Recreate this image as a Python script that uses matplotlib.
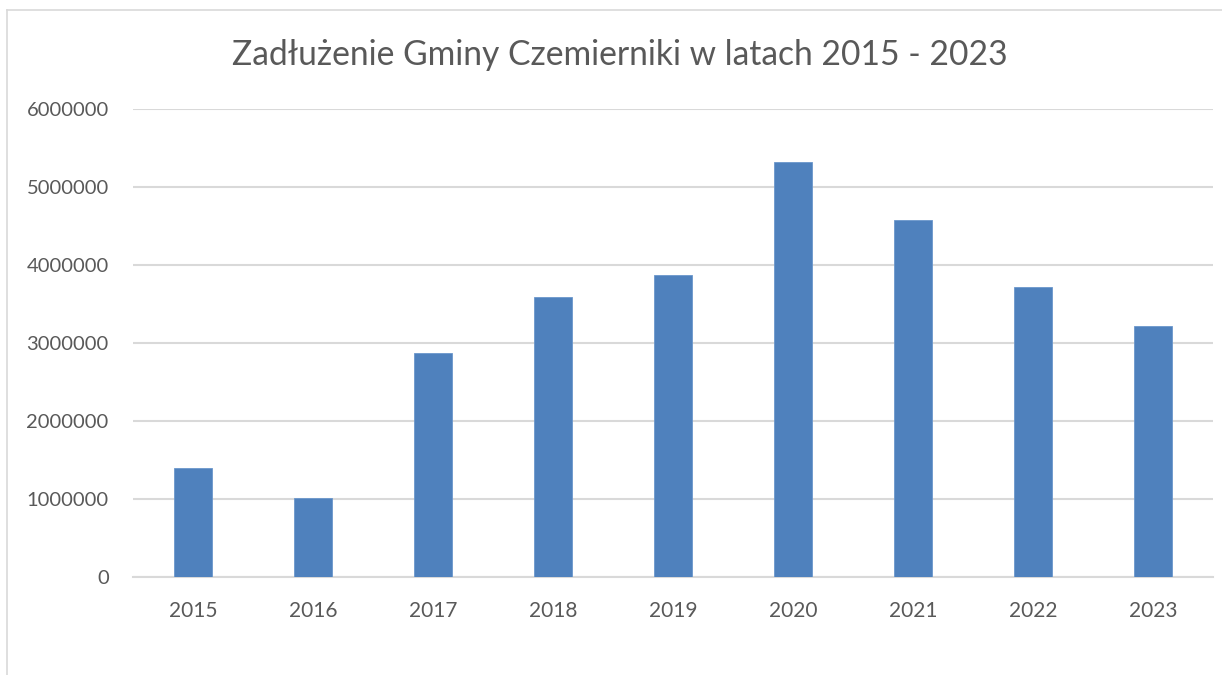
import matplotlib.pyplot as plt
from matplotlib.lines import Line2D

# dane
lata = ["2015", "2016", "2017", "2018", "2019", "2020", "2021", "2022", "2023"]
zadluzenie = [1400000, 1016000, 2870000, 3595000, 3873000, 5325000, 4574000, 3720000, 3220000]
y_ticks = [0, 1000000, 2000000, 3000000, 4000000, 5000000, 6000000]

plt.rcParams['font.family'] = ['Lato', 'DejaVu Sans']

fig = plt.figure(figsize=(12.22, 6.75), dpi=100)
ax = fig.add_axes([133 / 1222, 1 - 577.3 / 675, 1080 / 1222, (577.3 - 109) / 675])

x = range(len(lata))
ax.bar(x, zadluzenie, width=0.31, color='#4F81BD', edgecolor='#6B97CC', linewidth=0.6, zorder=3)

ax.set_xlim(-0.5, len(lata) - 0.5)
ax.set_ylim(0, 6000000)
ax.set_yticks(y_ticks)
ax.set_yticklabels([str(v) for v in y_ticks])
ax.set_xticks(list(x))
ax.set_xticklabels(lata)

ax.grid(axis='y', color='#D9D9D9', linewidth=1.5, zorder=0)
for s in ['top', 'right', 'left']:
    ax.spines[s].set_visible(False)
ax.spines['bottom'].set_color('#D9D9D9')
ax.spines['bottom'].set_linewidth(1.5)
ax.tick_params(axis='both', length=0, labelsize=14.5, colors='#595959')
ax.tick_params(axis='x', labelsize=15, pad=17)
ax.tick_params(axis='y', pad=17.5)

fig.text(620 / 1222, 1 - 55 / 675, "Zadłużenie Gminy Czemierniki w latach 2015 - 2023",
         ha='center', va='center', fontsize=24.2, color='#595959')

# ramka wykresu
fig.add_artist(Line2D([7 / 1222, 7 / 1222], [0, 1 - 10 / 675], transform=fig.transFigure,
                      color='#D9D9D9', linewidth=1.2))
fig.add_artist(Line2D([7 / 1222, 1], [1 - 10 / 675, 1 - 10 / 675], transform=fig.transFigure,
                      color='#D9D9D9', linewidth=1.2))

fig.savefig("out.png", dpi=100)
